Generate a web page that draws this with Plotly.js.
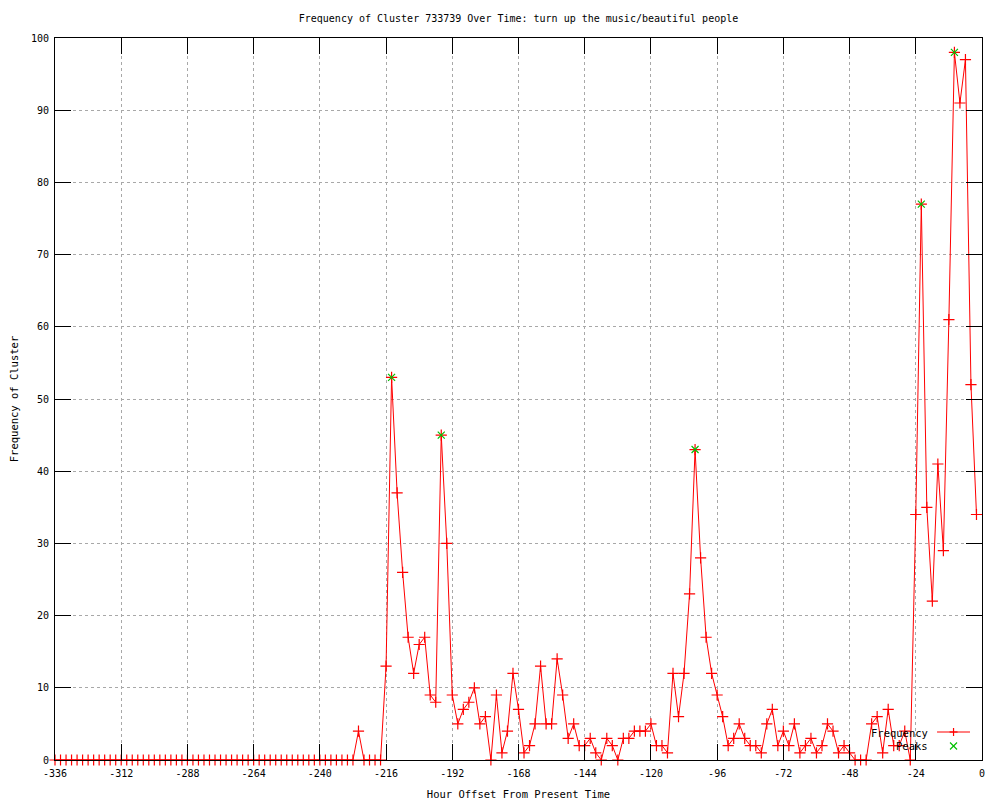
<!DOCTYPE html>
<html>
<head>
<meta charset="utf-8">
<script src="https://cdn.plot.ly/plotly-3.0.1.min.js"></script>
<style>html,body{margin:0;padding:0;background:#fff;}#chart{width:1000px;height:800px;}</style>
</head>
<body>
<div id="chart"></div>
<script>
// Hour offsets: every 2 hours from -336 to -2
var startHour = -336;
var stepHours = 2;
var frequencyValues = [
  0,0,0,0,0,0,0,0,0,0,
  0,0,0,0,0,0,0,0,0,0,
  0,0,0,0,0,0,0,0,0,0,
  0,0,0,0,0,0,0,0,0,0,
  0,0,0,0,0,0,0,0,0,0,
  0,0,0,0,0,
  4,0,0,0,0,
  13,53,37,26,17,12,16,17,9,8,
  45,30,9,5,7,8,10,5,6,0,
  9,1,4,12,7,1,2,5,13,5,
  5,14,9,3,5,2,2,3,1,0,
  3,2,0,3,3,4,4,4,5,2,
  2,1,12,6,12,23,43,28,17,12,
  9,6,2,3,5,3,2,2,1,5,
  7,2,4,2,5,1,2,3,1,2,
  5,4,1,2,1,0,0,0,5,6,
  1,7,2,2,4,0,34,77,35,22,
  41,29,61,98,91,97,52,34
];
var hours = frequencyValues.map(function(v, i){ return startHour + i * stepHours; });

var peakHours = [-214, -196, -104, -22, -10];
var peakValues = [53, 45, 43, 77, 98];

var xTickVals = [-336, -312, -288, -264, -240, -216, -192, -168, -144, -120, -96, -72, -48, -24, 0];
var yTickVals = [0, 10, 20, 30, 40, 50, 60, 70, 80, 90, 100];

var seriesNames = ['Frequency', 'Peaks'];
var titleText = 'Frequency of Cluster 733739 Over Time: turn up the music/beautiful people';
var xTitle = 'Hour Offset From Present Time';
var yTitle = 'Frequency of Cluster';

var fontFam = '"DejaVu Sans Mono", "Liberation Mono", monospace';
var RED = '#ff0000', GREEN = '#00c000';

var traces = [
  {
    x: hours, y: frequencyValues, name: seriesNames[0], showlegend: false,
    type: 'scatter', mode: 'lines+markers',
    line: {color: RED, width: 1},
    marker: {symbol: 'cross-thin-open', size: 8, color: RED, line: {color: RED, width: 1.2}},
    cliponaxis: false
  },
  {
    x: peakHours, y: peakValues, name: seriesNames[1], showlegend: false,
    type: 'scatter', mode: 'markers',
    marker: {symbol: 'x-thin-open', size: 7, color: GREEN, line: {color: GREEN, width: 1.2}},
    cliponaxis: false
  }
];

var axisCommon = {
  showline: true, linecolor: '#000', linewidth: 1, mirror: 'ticks',
  ticks: 'inside', ticklen: 16, tickwidth: 1, tickcolor: '#000',
  showgrid: true, gridcolor: '#a8a8a8', griddash: 'dot', gridwidth: 1,
  zeroline: false,
  tickfont: {family: fontFam, size: 10, color: '#000'}
};

// Custom gnuplot-style key (text right-aligned, sample to the right)
var keyX = 0.9693, keyTextX = 0.9439;
var keyY1 = 0.0374, keyY2 = 0.0194;
function seg(x0, y0, x1, y1, yanchor, color) {
  return {type: 'line', xref: 'paper', yref: 'paper', xsizemode: 'pixel', ysizemode: 'pixel',
          xanchor: keyX, yanchor: yanchor, x0: x0, x1: x1, y0: y0, y1: y1,
          line: {color: color, width: 1.2}};
}
var shapes = [
  seg(-16.5, 1, 16.5, 1, keyY1, RED),
  seg(-4, 1, 4, 1, keyY1, RED),
  seg(0, -3, 0, 5, keyY1, RED),
  seg(-3.5, -3.5, 3.5, 3.5, keyY2, GREEN),
  seg(-3.5, 3.5, 3.5, -3.5, keyY2, GREEN)
];
var annotations = [
  {text: seriesNames[0], xref: 'paper', yref: 'paper', x: keyTextX, y: keyY1, xanchor: 'right', yanchor: 'middle',
   showarrow: false, font: {family: fontFam, size: 10.5, color: '#000'}},
  {text: seriesNames[1], xref: 'paper', yref: 'paper', x: keyTextX, y: keyY2, xanchor: 'right', yanchor: 'middle',
   showarrow: false, font: {family: fontFam, size: 10.5, color: '#000'}}
];

var layout = {
  width: 1000, height: 800,
  paper_bgcolor: '#fff', plot_bgcolor: '#fff',
  margin: {l: 55, r: 18, t: 38, b: 40},
  font: {family: fontFam, size: 10.5, color: '#000'},
  title: {text: titleText, xref: 'paper', x: 0.5, xanchor: 'center', y: 0.9775, yanchor: 'middle',
          font: {family: fontFam, size: 10, color: '#000'}},
  xaxis: Object.assign({}, axisCommon, {
    range: [-336, 0], tickvals: xTickVals, ticktext: xTickVals.map(String),
    ticklabelstandoff: 4,
    title: {text: xTitle, standoff: 14, font: {family: fontFam, size: 10.5, color: '#000'}}
  }),
  yaxis: Object.assign({}, axisCommon, {
    range: [0, 100], tickvals: yTickVals, ticktext: yTickVals.map(String),
    ticklabelstandoff: 3,
    title: {text: yTitle, standoff: 10, font: {family: fontFam, size: 10.5, color: '#000'}}
  }),
  showlegend: false,
  shapes: shapes,
  annotations: annotations
};

Plotly.newPlot('chart', traces, layout, {displayModeBar: false, staticPlot: true});
</script>
</body>
</html>
